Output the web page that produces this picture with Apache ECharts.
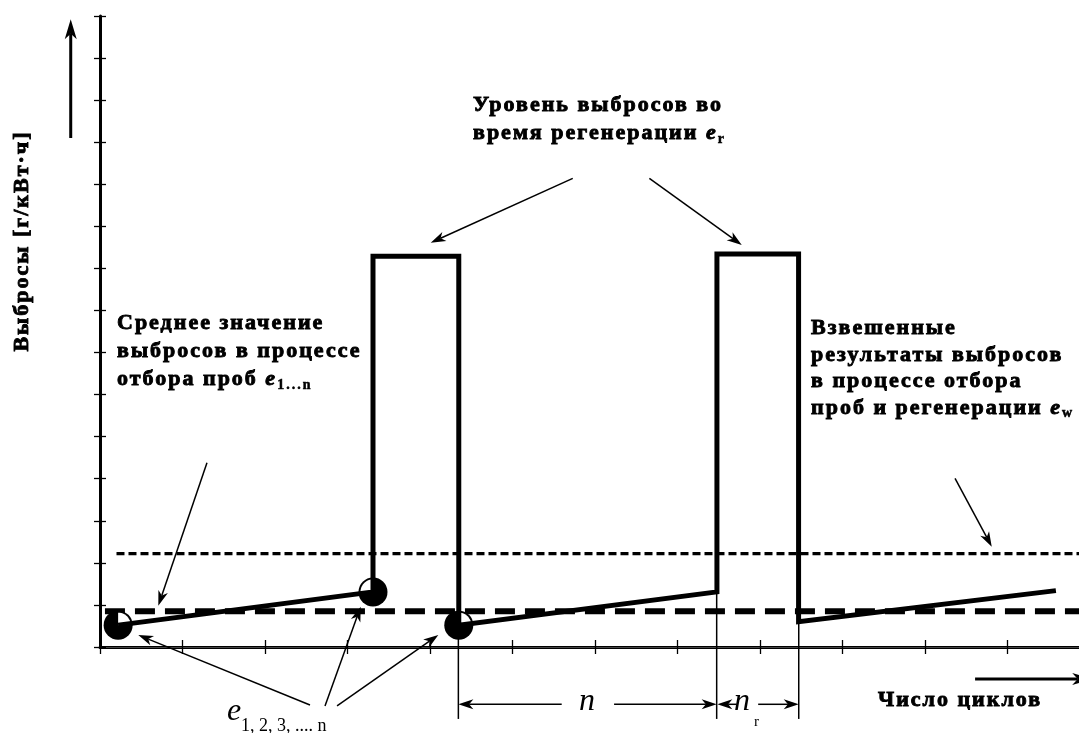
<!DOCTYPE html>
<html>
<head>
<meta charset="utf-8">
<script src="https://cdn.jsdelivr.net/npm/echarts@6/dist/echarts.min.js"></script>
<style>
html,body{margin:0;padding:0;background:#fff;}
#chart{width:1079px;height:733px;}
</style>
</head>
<body>
<div id="chart"></div>
<script>
// ---------------- data (axis units: x = cycles, y = emissions) ----------------
const traceX = [0.22, 3.31, 3.31, 4.35, 4.35, 7.48, 7.48, 8.47, 8.47, 11.59];
const traceY = [0.52, 1.31, 9.29, 9.29, 0.52, 1.31, 9.34, 9.34, 0.60, 1.34];
const sampleX = [0.22, 3.31, 4.35];
const sampleY = [0.52, 1.31, 0.52];
const sampleWedge = [0, 1, 0];          // 0 = white quarter upper-right, 1 = upper-left
const meanLevel = 0.85;                  // e(1...n)
const weightedLevel = 2.22;              // e(w)
const levelStartX = [0.06, 0.20];        // thick / thin dashed start
const xMax = 11.87, yMax = 15;
const xTicks = [0,1,2,3,4,5,6,7,8,9,10,11];
// annotation arrows [x1, y1, x2(tip), y2(tip)]
const arrowsThin = [
  [1.297, 4.381, 0.707, 0.982],
  [5.732, 11.141, 4.010, 9.610],
  [6.661, 11.141, 7.781, 9.555],
  [10.367, 4.010, 10.812, 2.384],
  [2.546, -1.379, 0.464, 0.285],
  [2.728, -1.402, 3.161, 0.958],
  [2.874, -1.402, 4.102, 0.285],
  [5.598, -1.362, 4.345, -1.362],
  [6.233, -1.362, 7.477, -1.362],
  [7.72, -1.362, 7.485, -1.362],
  [7.98, -1.362, 8.472, -1.362]
];
const arrowsAxis = [
  [-0.355, 12.10, -0.355, 14.92],
  [10.61, -0.761, 12.03, -0.761]
];
const guideX = [4.345, 7.477, 8.472];
const guideTop = [0.52, 1.31, 0.60];
const guideBottom = -1.71;

// ---------------- letter spacing for bold text (canvas) ----------------
(function(){
  const P = CanvasRenderingContext2D.prototype;
  const fT = P.fillText, sT = P.strokeText, mT = P.measureText;
  function ls(ctx){
    const v = /bold|700/.test(ctx.font) ? '2px' : '0px';
    try { if ('letterSpacing' in ctx && ctx.letterSpacing !== v) ctx.letterSpacing = v; } catch(e){}
  }
  P.fillText = function(){ ls(this); return fT.apply(this, arguments); };
  P.strokeText = function(){ ls(this); return sT.apply(this, arguments); };
  P.measureText = function(){ ls(this); return mT.apply(this, arguments); };
})();

const FF = 'Liberation Serif';
const chart = echarts.init(document.getElementById('chart'), null, {renderer:'canvas'});

function pairs(xs, ys){ return xs.map((x,i)=>[x, ys[i]]); }

function arrowRender(kind){
  return function(params, api){
    const p1 = api.coord([api.value(0), api.value(1)]);
    const p2 = api.coord([api.value(2), api.value(3)]);
    const lw = kind ? 3 : 1.5, L = kind ? 20 : 15, W = kind ? 6 : 5;
    const dx = p2[0]-p1[0], dy = p2[1]-p1[1], len = Math.hypot(dx, dy) || 1;
    const ux = dx/len, uy = dy/len, nx = -uy, ny = ux;
    const bx = p2[0]-ux*L, by = p2[1]-uy*L;
    const mx = p2[0]-ux*L*0.72, my = p2[1]-uy*L*0.72;
    return {type:'group', children:[
      {type:'line', shape:{x1:p1[0], y1:p1[1], x2:mx, y2:my}, style:{stroke:'#000', lineWidth:lw}},
      {type:'polygon', shape:{points:[[p2[0],p2[1]],[bx+nx*W, by+ny*W],[mx,my],[bx-nx*W, by-ny*W]]}, style:{fill:'#000'}}
    ]};
  };
}

const baseAxisX = {type:'value', min:0, max:xMax, interval:1, axisLabel:{show:false}, splitLine:{show:false}};
const baseAxisY = {type:'value', min:0, max:yMax, interval:1, axisLabel:{show:false}, splitLine:{show:false}};

const boldText = {fontFamily:FF, fontWeight:'bold', fontSize:22, fill:'#000', stroke:'#000', lineWidth:0.9};
const richSub = {
  e:{fontFamily:FF, fontWeight:'bold', fontStyle:'italic', fontSize:22, lineHeight:28, fill:'#000', stroke:'#000', lineWidth:0.9},
  s:{fontFamily:FF, fontWeight:'bold', fontSize:14, lineHeight:14, verticalAlign:'bottom', fill:'#000', stroke:'#000', lineWidth:0.5}
};

const option = {
  animation:false,
  backgroundColor:'#fff',
  grid:{left:100, right:0, top:16, bottom:86, containLabel:false},
  xAxis:[
    Object.assign({}, baseAxisX, {position:'bottom', axisLine:{show:true, onZero:false, lineStyle:{color:'#000', width:3}},
      axisTick:{show:true, inside:false, length:7, customValues:xTicks, lineStyle:{color:'#000', width:1.3}}}),
    Object.assign({}, baseAxisX, {position:'bottom', axisLine:{show:false},
      axisTick:{show:true, inside:true, length:7, customValues:xTicks, lineStyle:{color:'#000', width:1.3}}}),
    Object.assign({}, baseAxisX, {position:'top', axisLine:{show:true, lineStyle:{color:'#444', width:1.2}}, axisTick:{show:false}})
  ],
  yAxis:[
    Object.assign({}, baseAxisY, {position:'left', axisLine:{show:true, onZero:false, lineStyle:{color:'#000', width:3}},
      axisTick:{show:true, inside:false, length:6, lineStyle:{color:'#000', width:1.3}}}),
    Object.assign({}, baseAxisY, {position:'left', axisLine:{show:false},
      axisTick:{show:true, inside:true, length:6, lineStyle:{color:'#000', width:1.3}}})
  ],
  series:[
    {type:'line', name:'weighted', z:3, silent:true, showSymbol:false, symbol:'none',
      data:[[levelStartX[1], weightedLevel],[xMax, weightedLevel]],
      lineStyle:{color:'#000', width:3.2, type:[8,4]}},
    {type:'line', name:'mean', z:3, silent:true, showSymbol:false, symbol:'none',
      data:[[levelStartX[0], meanLevel],[xMax, meanLevel]],
      lineStyle:{color:'#000', width:6, type:[20,10]}},
    {type:'custom', name:'guides', z:3, silent:true, clip:false,
      data: guideX.map((x,i)=>[x, guideTop[i], guideBottom]),
      renderItem:function(params, api){
        const a = api.coord([api.value(0), api.value(1)]);
        const b = api.coord([api.value(0), api.value(2)]);
        return {type:'line', shape:{x1:a[0], y1:a[1], x2:b[0], y2:b[1]}, style:{stroke:'#000', lineWidth:1.5}};
      }},
    {type:'custom', name:'samples', z:4, silent:true, clip:false,
      data: sampleX.map((x,i)=>[x, sampleY[i], sampleWedge[i]]),
      renderItem:function(params, api){
        const c = api.coord([api.value(0), api.value(1)]);
        const left = api.value(2) === 1;
        const r = 12.5;
        // white quarter drawn as polygon path (center -> horizontal edge -> arc -> vertical edge)
        const pts = [[c[0], c[1]]];
        const a0 = left ? Math.PI : 0, a1 = Math.PI/2;
        const steps = 12;
        for (let k = 0; k <= steps; k++) {
          const a = a0 + (a1 - a0) * k / steps;
          pts.push([c[0] + r*Math.cos(a), c[1] - r*Math.sin(a)]);
        }
        return {type:'group', children:[
          {type:'circle', shape:{cx:c[0], cy:c[1], r:14.5}, style:{fill:'#000'}},
          {type:'polygon', shape:{points:pts}, style:{fill:'#fff'}}
        ]};
      }},
    {type:'line', name:'emissions', z:5, silent:true, showSymbol:false, symbol:'none',
      data: pairs(traceX, traceY),
      lineStyle:{color:'#000', width:5, join:'miter', cap:'butt'}},
    {type:'custom', name:'arrows', z:6, silent:true, clip:false,
      data: arrowsThin, renderItem: arrowRender(0)},
    {type:'custom', name:'axisArrows', z:6, silent:true, clip:false,
      data: arrowsAxis, renderItem: arrowRender(1)}
  ],
  graphic:[
    {type:'text', x:22, y:241, rotation:Math.PI/2, silent:true,
      style:Object.assign({}, boldText, {text:'Выбросы [г/кВт·ч]', align:'center', verticalAlign:'middle'})},
    {type:'text', x:473, y:91, silent:true,
      style:Object.assign({}, boldText, {text:'Уровень выбросов во\nвремя регенерации {e|e}{s|r}', lineHeight:28, align:'left', verticalAlign:'top', rich:richSub})},
    {type:'text', x:117, y:309, silent:true,
      style:Object.assign({}, boldText, {text:'Среднее значение\nвыбросов в процессе\nотбора проб {e|e}{s|1...n}', lineHeight:28, align:'left', verticalAlign:'top', rich:richSub})},
    {type:'text', x:811, y:315, silent:true,
      style:Object.assign({}, boldText, {text:'Взвешенные\nрезультаты выбросов\nв процессе отбора\nпроб и регенерации {e|e}{s|w}', lineHeight:26.7, align:'left', verticalAlign:'top',
        rich:{e:Object.assign({}, richSub.e, {lineHeight:26.7}), s:richSub.s}})},
    {type:'text', x:878, y:700, silent:true,
      style:Object.assign({}, boldText, {text:'Число циклов', align:'left', verticalAlign:'middle'})},
    {type:'text', x:227, y:712, silent:true,
      style:{text:'e', fontFamily:FF, fontStyle:'italic', fontSize:32, fill:'#000', align:'left', verticalAlign:'middle'}},
    {type:'text', x:241, y:726, silent:true,
      style:{text:'1, 2, 3, .... n', fontFamily:FF, fontSize:18, fill:'#000', align:'left', verticalAlign:'middle'}},
    {type:'text', x:587, y:702, silent:true,
      style:{text:'n', fontFamily:FF, fontStyle:'italic', fontSize:32, fill:'#000', align:'center', verticalAlign:'middle'}},
    {type:'text', x:742, y:702, silent:true,
      style:{text:'n', fontFamily:FF, fontStyle:'italic', fontSize:32, fill:'#000', align:'center', verticalAlign:'middle'}},
    {type:'text', x:754, y:722, silent:true,
      style:{text:'r', fontFamily:FF, fontSize:15, fill:'#000', align:'left', verticalAlign:'middle'}}
  ]
};
chart.setOption(option);
</script>
</body>
</html>
